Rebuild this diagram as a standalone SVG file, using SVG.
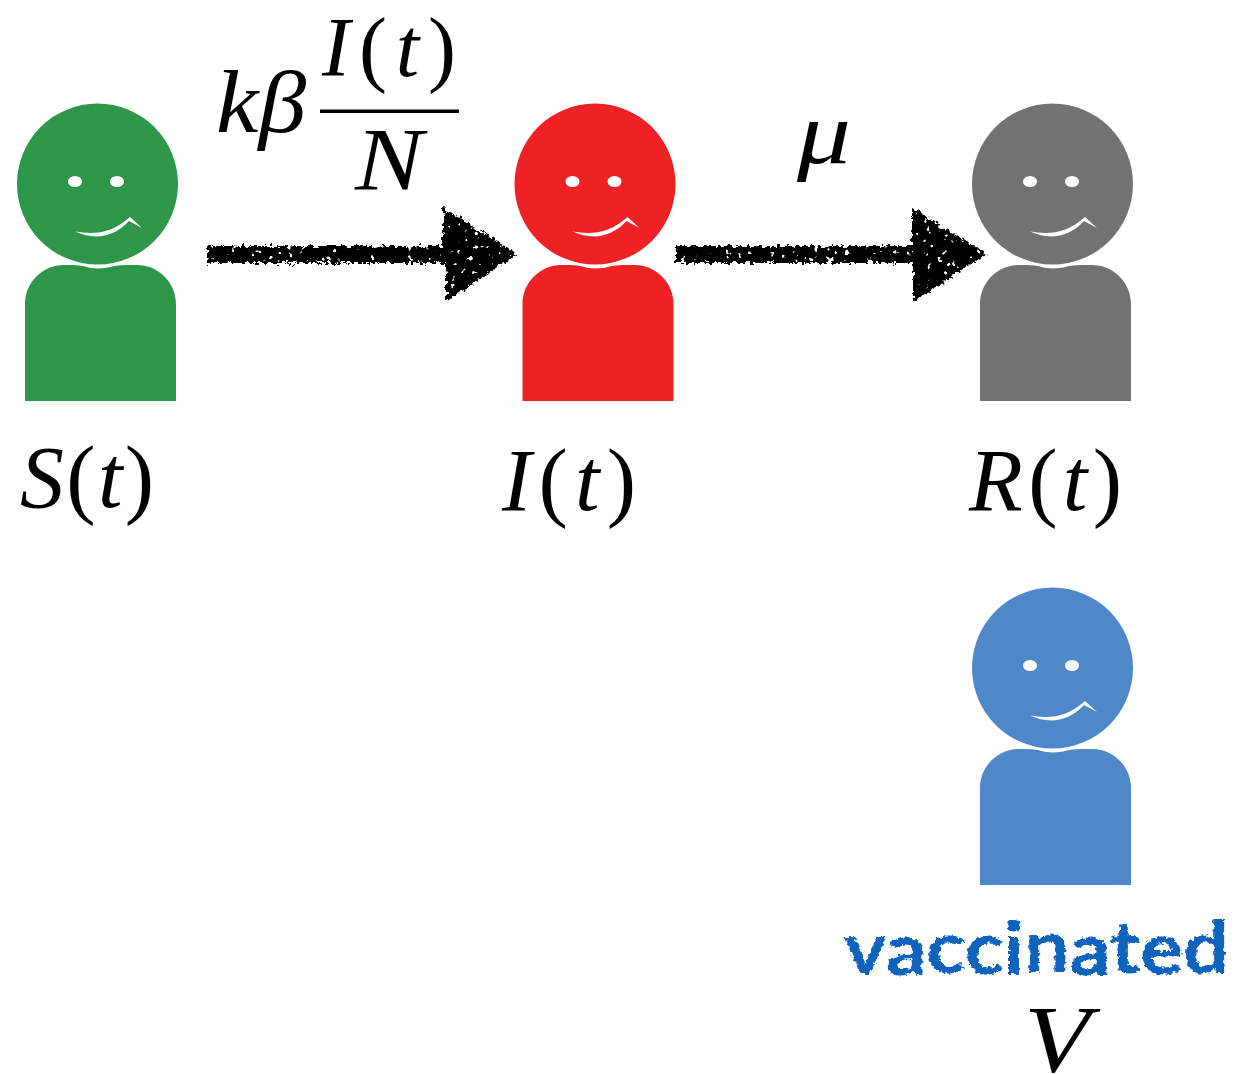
<svg xmlns="http://www.w3.org/2000/svg" width="1239" height="1074" viewBox="0 0 1239 1074">
<style>
.m{font-family:"Liberation Serif",serif;font-style:italic;font-size:88px;fill:#000}
.p{font-style:normal}
.face{fill:#fff}
</style>
<defs>
<g id="person">
<circle cx="97.500" cy="184" r="80.500"/>
<path d="M25 401V304C25 282.500 42.500 265 64 265H72C84 265 88 268.500 98 268.500C108 268.500 114 265 126 265H137C158.500 265 176 282.500 176 304V401Z"/>
<ellipse class="face" cx="75" cy="181.500" rx="7" ry="5.500"/>
<ellipse class="face" cx="117" cy="181.500" rx="7" ry="5.500"/>
<path class="face" d="M75 231.500C95 235 112 233 130 217L142 228L129 221C113 238 94 240 75 231.500Z"/>
</g>
<filter id="rough" x="-5%" y="-20%" width="110%" height="140%" color-interpolation-filters="sRGB">
<feTurbulence type="fractalNoise" baseFrequency="0.22" numOctaves="3" seed="4" result="n"/>
<feDisplacementMap in="SourceGraphic" in2="n" scale="9" xChannelSelector="R" yChannelSelector="G" result="d"/>
<feTurbulence type="fractalNoise" baseFrequency="0.16" numOctaves="2" seed="17"/>
<feColorMatrix type="matrix" values="0 0 0 0 0  0 0 0 0 0  0 0 0 0 0  16 0 0 0 -4.200" result="h"/>
<feComposite in="d" in2="h" operator="in"/>
</filter>
<filter id="chalk" x="-5%" y="-10%" width="110%" height="120%" color-interpolation-filters="sRGB">
<feTurbulence type="fractalNoise" baseFrequency="0.25" numOctaves="2" seed="9" result="n"/>
<feDisplacementMap in="SourceGraphic" in2="n" scale="6" xChannelSelector="R" yChannelSelector="G"/>
</filter>
</defs>
<rect width="1239" height="1074" fill="#fff"/>
<g id="connectors" filter="url(#rough)">
<path d="M207 246L443 246V208L517 254L446 302V263L207 263Z"/>
<path d="M676 246L912 246V208L986 254L913 302V263L676 263Z"/>
</g>
<g id="node-s" fill="#2e9648"><use href="#person"/></g>
<g id="node-i" fill="#ee2224"><use href="#person" x="497.500"/></g>
<g id="node-r" fill="#727272"><use href="#person" x="955"/></g>
<g id="node-v" fill="#4f88c8"><use href="#person" x="955" y="484"/></g>
<g id="label-rate-si">
<text class="m" x="216" y="132" textLength="90" lengthAdjust="spacingAndGlyphs">kβ</text>
<text class="m" style="font-size:84px" x="322" y="76" textLength="134">I<tspan class="p">(</tspan>t<tspan class="p">)</tspan></text>
<rect x="320" y="109.500" width="139" height="3.500"/>
<text class="m" x="355" y="189" textLength="68" lengthAdjust="spacingAndGlyphs">N</text>
</g>
<text id="label-rate-ir" class="m" x="797" y="163" textLength="54" lengthAdjust="spacingAndGlyphs">μ</text>
<text id="label-s" class="m" x="20" y="507" textLength="134">S<tspan class="p">(</tspan>t<tspan class="p">)</tspan></text>
<text id="label-i" class="m" x="502" y="510" textLength="134">I<tspan class="p">(</tspan>t<tspan class="p">)</tspan></text>
<text id="label-r" class="m" x="969" y="510" textLength="153">R<tspan class="p">(</tspan>t<tspan class="p">)</tspan></text>
<text id="label-vaccinated" x="844" y="972" dy="2 1 -2 1 0 -2 3 -2 1 -1" font-family="Lato,sans-serif" font-weight="700" font-size="72" fill="#0e63bd" textLength="385" lengthAdjust="spacingAndGlyphs" filter="url(#chalk)">vaccinated</text>
<text id="label-v" class="m" style="font-size:96px" x="1024" y="1072" textLength="66" lengthAdjust="spacingAndGlyphs">V</text>
</svg>
